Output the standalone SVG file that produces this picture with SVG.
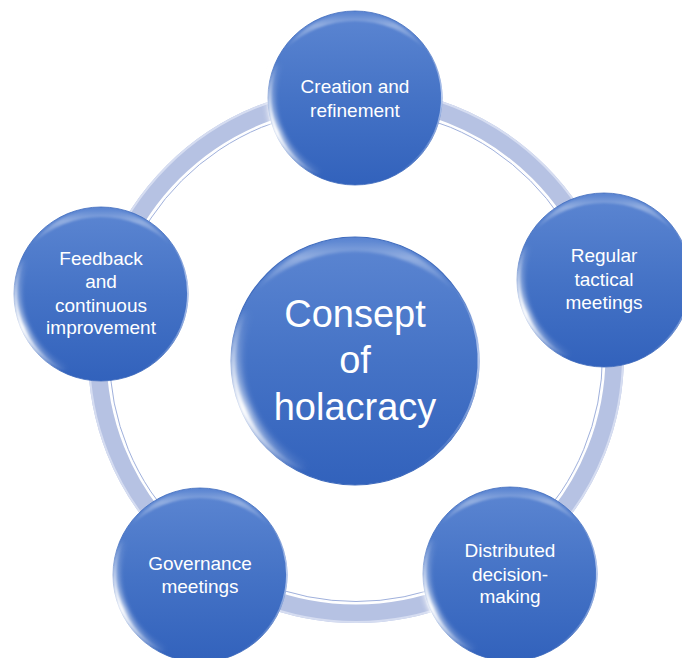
<svg xmlns="http://www.w3.org/2000/svg" xmlns:xlink="http://www.w3.org/1999/xlink" width="682" height="658" viewBox="0 0 682 658">
  <defs>
    <style>
      .label { font-family: "Liberation Sans", Arial, sans-serif; font-size: 19px; fill: #ffffff; text-anchor: middle; }
      .title { font-family: "Liberation Sans", Arial, sans-serif; font-size: 38px; fill: #ffffff; text-anchor: middle; }
      .band { fill: none; stroke: #b6c2e3; stroke-width: 20; }
    </style>

    <!-- glossy blue body of each circle -->
    <linearGradient id="bodyFill" x1="0" y1="0" x2="0" y2="1">
      <stop offset="0" stop-color="#5c86d2"/>
      <stop offset="0.5" stop-color="#4573c6"/>
      <stop offset="1" stop-color="#3262bc"/>
    </linearGradient>
    <linearGradient id="topSheen" x1="0" y1="0" x2="0" y2="1">
      <stop offset="0" stop-color="#ffffff" stop-opacity="0"/>
      <stop offset="0.35" stop-color="#ffffff" stop-opacity="0.35"/>
      <stop offset="1" stop-color="#ffffff" stop-opacity="0"/>
    </linearGradient>
    <linearGradient id="glintStroke" x1="0" y1="0" x2="0" y2="1">
      <stop offset="0" stop-color="#ffffff" stop-opacity="0"/>
      <stop offset="0.4" stop-color="#ffffff" stop-opacity="0.6"/>
      <stop offset="0.62" stop-color="#ffffff" stop-opacity="1"/>
      <stop offset="1" stop-color="#ffffff" stop-opacity="0"/>
    </linearGradient>
    <linearGradient id="rimStroke" x1="0" y1="0" x2="0" y2="1">
      <stop offset="0" stop-color="#c4d4f4" stop-opacity="0"/>
      <stop offset="0.4" stop-color="#c4d4f4" stop-opacity="0.9"/>
      <stop offset="1" stop-color="#c4d4f4" stop-opacity="0"/>
    </linearGradient>
    <filter id="soft" x="-20%" y="-20%" width="140%" height="140%">
      <feGaussianBlur stdDeviation="1"/>
    </filter>
    <filter id="softer" x="-20%" y="-20%" width="140%" height="140%">
      <feGaussianBlur stdDeviation="2.5"/>
    </filter>

    <!-- one bead, radius 87, centred on the origin -->
    <g id="bead">
      <circle r="87" fill="url(#bodyFill)" stroke="#3f6bbd" stroke-width="0.8"/>
      <!-- sheen along the upper edge -->
      <path d="M -69.6 -48.8 A 85 85 0 0 1 69.6 -48.8 A 100 100 0 0 0 -69.6 -48.8 Z" fill="url(#topSheen)" filter="url(#soft)"/>
      <!-- bright reflection on the lower left -->
      <path d="M -35.9 77 A 85 85 0 0 1 -77 -35.9" fill="none" stroke="url(#glintStroke)" stroke-width="9" filter="url(#softer)" opacity="0.75"/>
      <path d="M -35.9 77 A 83.5 83.5 0 0 1 -77 -35.9" fill="none" stroke="url(#glintStroke)" stroke-width="3.5" stroke-linecap="round" filter="url(#soft)"/>
      <!-- thin light rim on the right -->
      <path d="M 66.6 -55.9 A 86 86 0 0 1 43 74.5" fill="none" stroke="url(#rimStroke)" stroke-width="1.6"/>
    </g>
  </defs>

  <rect width="682" height="658" fill="#ffffff"/>

  <!-- the cycle ring joining the outer circles -->
  <g id="connectors">
    <circle class="band" cx="356" cy="355" r="258"/>
    <circle cx="356" cy="355" r="267" fill="none" stroke="#d6ddf1" stroke-width="2"/>
    <circle cx="356" cy="355" r="248.5" fill="none" stroke="#ffffff" stroke-width="2"/>
    <circle cx="356" cy="355" r="246.5" fill="none" stroke="#9fb0dc" stroke-width="1"/>
  </g>

  <g id="node-centre" transform="translate(355,361)">
    <use xlink:href="#bead" href="#bead" transform="scale(1.4253)"/>
    <text class="title"><tspan x="0" y="-34">Consept</tspan><tspan x="0" y="12">of</tspan><tspan x="0" y="59">holacracy</tspan></text>
  </g>

  <g id="node-creation" transform="translate(355,98)">
    <use xlink:href="#bead" href="#bead"/>
    <text class="label"><tspan x="0" y="-5">Creation and</tspan><tspan x="0" y="19">refinement</tspan></text>
  </g>

  <g id="node-tactical" transform="translate(604,280)">
    <use xlink:href="#bead" href="#bead"/>
    <text class="label"><tspan x="0" y="-18">Regular</tspan><tspan x="0" y="6">tactical</tspan><tspan x="0" y="29">meetings</tspan></text>
  </g>

  <g id="node-decision" transform="translate(510,574)">
    <use xlink:href="#bead" href="#bead"/>
    <text class="label"><tspan x="0" y="-17">Distributed</tspan><tspan x="0" y="7">decision-</tspan><tspan x="0" y="29">making</tspan></text>
  </g>

  <g id="node-governance" transform="translate(200,575)">
    <use xlink:href="#bead" href="#bead"/>
    <text class="label"><tspan x="0" y="-5">Governance</tspan><tspan x="0" y="18">meetings</tspan></text>
  </g>

  <g id="node-feedback" transform="translate(101,294)">
    <use xlink:href="#bead" href="#bead"/>
    <text class="label"><tspan x="0" y="-29">Feedback</tspan><tspan x="0" y="-6">and</tspan><tspan x="0" y="18">continuous</tspan><tspan x="0" y="40">improvement</tspan></text>
  </g>
</svg>
